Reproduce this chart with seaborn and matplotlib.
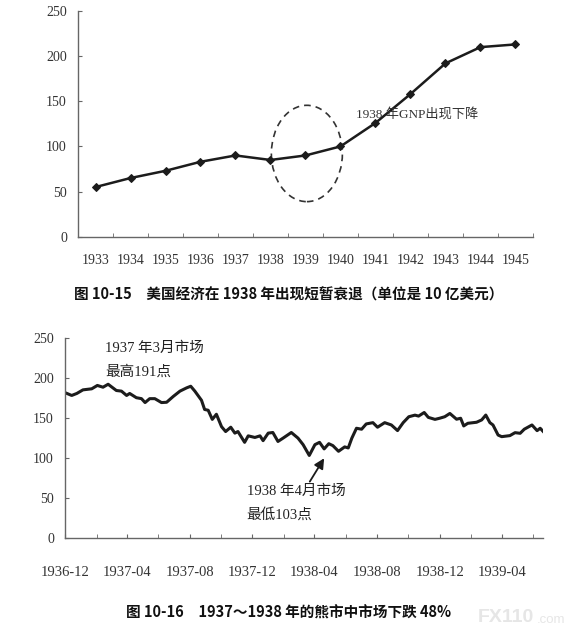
import numpy as np
import pandas as pd
import matplotlib
matplotlib.use("Agg")
import matplotlib.pyplot as plt
import matplotlib.dates as mdates
from matplotlib.patches import Ellipse
import seaborn as sns

# 图 10-15：美国 GNP（10 亿美元）
years = ["1933", "1934", "1935", "1936", "1937", "1938", "1939",
         "1940", "1941", "1942", "1943", "1944", "1945"]
gnp = [55, 65, 73, 83, 90, 85, 90, 100, 126, 158, 192, 210, 213]

# 图 10-16：1936-12 ~ 1939-06 市场指数
dj_dates = [
    "1936-12-01", "1936-12-14", "1936-12-24", "1937-01-05", "1937-01-22",
    "1937-02-02", "1937-02-13", "1937-02-23", "1937-03-11", "1937-03-21",
    "1937-03-31", "1937-04-06", "1937-04-19", "1937-04-29", "1937-05-06",
    "1937-05-15", "1937-05-25", "1937-06-07", "1937-06-17", "1937-06-30",
    "1937-07-13", "1937-07-26", "1937-08-03", "1937-08-11", "1937-08-24",
    "1937-08-30", "1937-09-06", "1937-09-14", "1937-09-22", "1937-10-02",
    "1937-10-10", "1937-10-20", "1937-10-28", "1937-11-03", "1937-11-16",
    "1937-11-23", "1937-12-06", "1937-12-16", "1937-12-22", "1938-01-01",
    "1938-01-10", "1938-01-20", "1938-01-30", "1938-02-15", "1938-02-28",
    "1938-03-10", "1938-03-22", "1938-04-02", "1938-04-11", "1938-04-20",
    "1938-04-29", "1938-05-07", "1938-05-18", "1938-05-30", "1938-06-06",
    "1938-06-13", "1938-06-22", "1938-07-02", "1938-07-11", "1938-07-24",
    "1938-08-02", "1938-08-16", "1938-08-29", "1938-09-10", "1938-09-21",
    "1938-10-02", "1938-10-14", "1938-10-21", "1938-11-01", "1938-11-09",
    "1938-11-22", "1938-12-01", "1938-12-11", "1938-12-21", "1939-01-03",
    "1939-01-11", "1939-01-17", "1939-01-25", "1939-02-11", "1939-02-21",
    "1939-03-01", "1939-03-09", "1939-03-15", "1939-03-25", "1939-04-01",
    "1939-04-17", "1939-04-27", "1939-05-07", "1939-05-15", "1939-05-30",
    "1939-06-09", "1939-06-15", "1939-06-23",
]
dj_values = [
    182, 178.5, 181, 185.5, 186.8,
    191, 188.8, 192.5, 184.7, 183.9,
    178.5, 181, 175.7, 174.5, 169.6,
    174.5, 174.5, 169.6, 170, 177.3,
    183.9, 188, 190, 183.9, 172.4,
    161, 160, 148.6, 155, 139.5,
    133.4, 138.8, 131.4, 133.4, 119.9,
    128, 126, 128, 122, 131.4,
    132.2, 121, 125.2, 132.2, 125.2,
    117, 103.5, 117, 119.9, 111.7,
    118.2, 115.8, 108.7, 114.2, 112.9,
    125.2, 137.5, 136.3, 142.9, 144.5,
    138.8, 144.5, 141.6, 134.6, 144.5,
    151.9, 153.9, 152.7, 157.2, 151.1,
    148.6, 150, 151.9, 156, 148.8,
    150, 140.4, 143.7, 145, 147.9,
    154, 144.5, 141.6, 129, 127,
    128.3, 132, 131.2, 136.3, 141.6,
    134.5, 137.5, 132,
]

sns.set_style("ticks")
serif = ["Liberation Serif", "Noto Sans CJK SC"]
plt.rcParams["font.family"] = serif
plt.rcParams["axes.unicode_minus"] = False

spine_c = "#666666"
text_c = "#333333"
line_c = "#1c1c1c"

fig = plt.figure(figsize=(5.78, 6.37), dpi=100)

# ---------- 上图 ----------
ax1 = fig.add_axes([0.135, 0.6284, 0.787, 0.3543])
pos = np.arange(len(years))
sns.lineplot(x=pos, y=gnp, marker="D", markersize=4.5, color=line_c,
             markeredgecolor=line_c, linewidth=1.8, ax=ax1)
ax1.set_xlim(-0.5, len(years) - 0.5)
ax1.set_ylim(0, 250)
ax1.set_xticks(pos, years)
ax1.set_xticks(np.arange(len(years) + 1) - 0.5, minor=True)
ax1.tick_params(axis="x", which="major", length=0, pad=12.5,
                labelsize=10, labelcolor=text_c)
ax1.tick_params(axis="x", which="minor", direction="in", length=3,
                color=spine_c)
ax1.set_yticks(range(0, 251, 50))
ax1.tick_params(axis="y", direction="in", length=3, pad=8,
                labelsize=10, labelcolor=text_c, color=spine_c)
sns.despine(ax=ax1)
for s in ("left", "bottom"):
    ax1.spines[s].set_color(spine_c)
    ax1.spines[s].set_linewidth(1)

ax1.add_patch(Ellipse((6.04, 92.2), width=2.03, height=106.7, fill=False,
                      linestyle=(0, (4, 3)), linewidth=1.2, edgecolor="#333333"))
ax1.text(7.43, 136, "1938 年GNP出现下降", fontsize=9.5, va="center",
         ha="left", color=text_c, family=serif)

fig.text(0.5, 1 - 295 / 637, "图 10-15\u3000美国经济在 1938 年出现短暂衰退（单位是 10 亿美元）",
         ha="center", va="center", fontsize=10.5, weight="bold",
         family=["Noto Sans CJK SC"], color="#111111")

# ---------- 下图 ----------
ax2 = fig.add_axes([0.1125, 0.155, 0.8265, 0.314])
sns.lineplot(x=pd.to_datetime(dj_dates), y=dj_values, color=line_c,
             linewidth=2.2, ax=ax2)
ax2.set_xlim(pd.Timestamp("1936-12-01"), pd.Timestamp("1939-06-20"))
ax2.set_ylim(0, 250)
ax2.set_yticks(range(0, 251, 50))
ax2.xaxis.set_major_locator(mdates.MonthLocator(bymonth=(4, 8, 12)))
ax2.xaxis.set_minor_locator(mdates.MonthLocator(bymonth=(2, 6, 10)))
ax2.xaxis.set_major_formatter(mdates.DateFormatter("%Y-%m"))
ax2.tick_params(axis="x", which="both", direction="in", length=3,
                color=spine_c)
ax2.tick_params(axis="x", which="major", pad=20, labelsize=10.5,
                labelcolor=text_c)
ax2.tick_params(axis="y", direction="in", length=3, pad=8,
                labelsize=10, labelcolor=text_c, color=spine_c)
ax2.set_xlabel("")
ax2.set_ylabel("")
sns.despine(ax=ax2)
for s in ("left", "bottom"):
    ax2.spines[s].set_color(spine_c)
    ax2.spines[s].set_linewidth(1)

ax2.text(pd.Timestamp("1937-02-17"), 237.5, "1937 年3月市场", fontsize=10.5,
         va="center", ha="left", color="#222222", family=serif)
ax2.text(pd.Timestamp("1937-02-17"), 208, "最高191点", fontsize=10.5,
         va="center", ha="left", color="#222222", family=serif)
ax2.text(pd.Timestamp("1937-11-20"), 58.3, "1938 年4月市场", fontsize=10.5,
         va="center", ha="left", color="#222222", family=serif)
ax2.text(pd.Timestamp("1937-11-20"), 29, "最低103点", fontsize=10.5,
         va="center", ha="left", color="#222222", family=serif)
ax2.annotate("", xy=(pd.Timestamp("1938-04-20"), 100),
             xytext=(pd.Timestamp("1938-03-23"), 70.8),
             arrowprops=dict(arrowstyle="-|>", color="#1a1a1a", lw=1.3,
                             mutation_scale=15, shrinkA=0, shrinkB=0))

fig.text(0.5, 1 - 613 / 637, "图 10-16\u30001937～1938 年的熊市中市场下跌 48%",
         ha="center", va="center", fontsize=10.5, weight="bold",
         family=["Noto Sans CJK SC"], color="#111111")

# 水印
fig.text(478 / 578, 1 - 617 / 637, "FX110", ha="left", va="center",
         fontsize=14, weight="bold", family=["Liberation Sans"], color="#e6e6e6")
fig.text(537 / 578, 1 - 620 / 637, ".com", ha="left", va="center",
         fontsize=9.5, family=["Liberation Sans"], color="#e6e6e6")

fig.savefig("out.png", dpi=100)
